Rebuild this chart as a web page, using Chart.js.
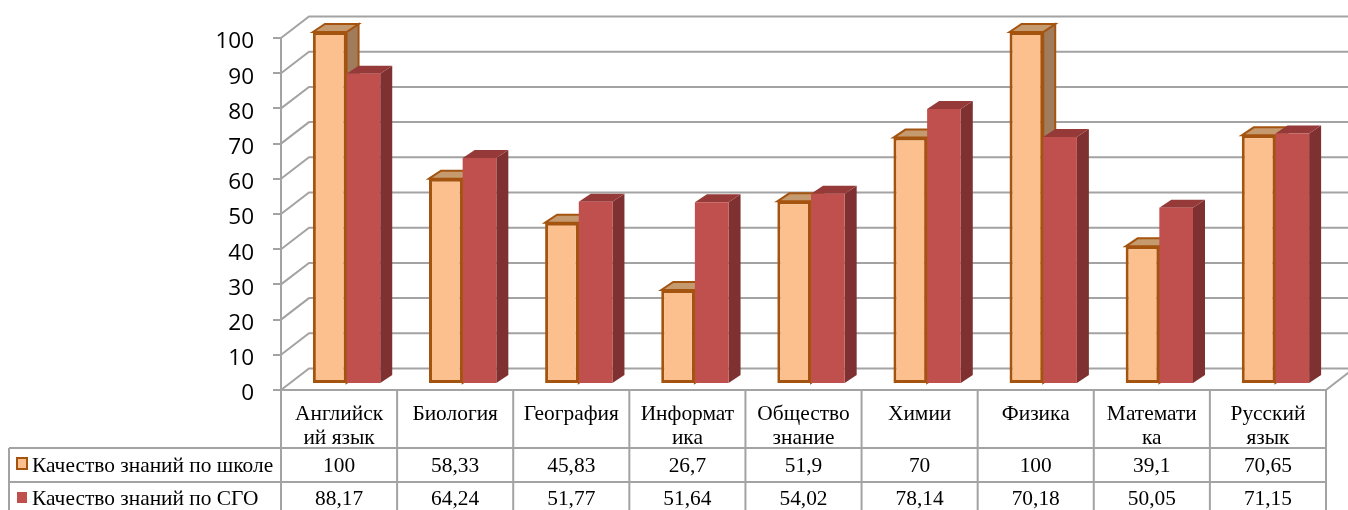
<!DOCTYPE html>
<html>
<head>
<meta charset="utf-8">
<style>
  body { margin: 0; background: #fff; }
  canvas { display: block; }
</style>
</head>
<body>
<canvas id="chart" width="1348" height="510"></canvas>
<script src="https://cdn.jsdelivr.net/npm/chart.js@4"></script>
<script>
// Data
const categories = [
  ['Английск', 'ий язык'], ['Биология'], ['География'], ['Информат', 'ика'],
  ['Общество', 'знание'], ['Химии'], ['Физика'], ['Математи', 'ка'], ['Русский', 'язык']
];
const schoolName = 'Качество знаний по школе';
const schoolValues = [100, 58.33, 45.83, 26.7, 51.9, 70, 100, 39.1, 70.65];
const districtName = 'Качество знаний по СГО';
const districtValues = [88.17, 64.24, 51.77, 51.64, 54.02, 78.14, 70.18, 50.05, 71.15];

const gray = '#a3a3a3';
const serif = 'Liberation Serif';
const wall = { dx: 28, dy: -21.5 };  // back wall offset from the front of the axes
const barShift = { dx: 7.5, dy: -6 };  // bars stand a bit inside the floor
const depth = { dx: 12, dy: -8 };    // depth of one bar
const faces = [
  { top: '#c49a6e', side: '#a07c5c', line: '#a5540f' },
  { top: '#953a38', side: '#7e3130', line: null }
];

// Walls and floor behind the bars
const wallsPlugin = {
  id: 'walls',
  beforeDatasetsDraw(chart) {
    const ctx = chart.ctx, y = chart.scales.y, area = chart.chartArea;
    ctx.save();
    ctx.strokeStyle = gray;
    ctx.lineWidth = 2;
    y.ticks.forEach(function (t) {
      const py = y.getPixelForValue(t.value);
      ctx.beginPath();
      ctx.moveTo(area.left, py);
      ctx.lineTo(area.left + wall.dx, py + wall.dy);
      ctx.lineTo(chart.width, py + wall.dy);
      ctx.stroke();
    });
    // right edge of the floor
    ctx.beginPath();
    ctx.moveTo(area.right, area.bottom);
    ctx.lineTo(area.right + wall.dx, area.bottom + wall.dy);
    ctx.stroke();
    ctx.restore();

    // sides and tops of the bars, the fronts come from Chart.js afterwards
    ctx.save();
    ctx.translate(barShift.dx, barShift.dy);
    chart.data.datasets.forEach(function (ds, i) {
      chart.getDatasetMeta(i).data.forEach(function (bar) {
        const l = bar.x - bar.width / 2, r = bar.x + bar.width / 2;
        ctx.lineWidth = 2;
        ctx.strokeStyle = faces[i].line || 'transparent';
        ctx.fillStyle = faces[i].side;
        ctx.beginPath();
        ctx.moveTo(r, bar.y);
        ctx.lineTo(r + depth.dx, bar.y + depth.dy);
        ctx.lineTo(r + depth.dx, bar.base + depth.dy);
        ctx.lineTo(r, bar.base);
        ctx.closePath();
        ctx.fill();
        if (faces[i].line) ctx.stroke();
        ctx.fillStyle = faces[i].top;
        ctx.beginPath();
        ctx.moveTo(l, bar.y);
        ctx.lineTo(l + depth.dx, bar.y + depth.dy);
        ctx.lineTo(r + depth.dx, bar.y + depth.dy);
        ctx.lineTo(r, bar.y);
        ctx.closePath();
        ctx.fill();
        if (faces[i].line) ctx.stroke();
      });
    });
  },
  afterDatasetsDraw(chart) {
    chart.ctx.restore();
  }
};

// Data table under the chart, with the legend keys in it
const tablePlugin = {
  id: 'dataTable',
  afterDraw(chart) {
    const ctx = chart.ctx, area = chart.chartArea, x = chart.scales.x;
    const tableLeft = 9, rowTops = [448, 482, 516];
    const cellWidth = (area.right - area.left) / categories.length;
    ctx.save();
    ctx.strokeStyle = gray;
    ctx.lineWidth = 2;
    ctx.beginPath();
    ctx.moveTo(area.left, area.bottom);
    ctx.lineTo(area.right, area.bottom);
    for (let i = 0; i <= categories.length; i++) {
      ctx.moveTo(area.left + i * cellWidth, area.bottom);
      ctx.lineTo(area.left + i * cellWidth, chart.height);
    }
    ctx.moveTo(tableLeft, rowTops[0]);
    ctx.lineTo(tableLeft, chart.height);
    rowTops.forEach(function (top) {
      ctx.moveTo(tableLeft, top);
      ctx.lineTo(area.right, top);
    });
    ctx.stroke();

    ctx.font = '21.4px "' + serif + '"';
    ctx.textBaseline = 'alphabetic';
    const rows = [
      { name: schoolName, values: schoolValues },
      { name: districtName, values: districtValues }
    ];
    rows.forEach(function (row, r) {
      const base = rowTops[r] + 24 - r;
      ctx.textAlign = 'left';
      ctx.fillStyle = '#000';
      ctx.fillText(row.name, 32, base);
      ctx.textAlign = 'center';
      row.values.forEach(function (v, i) {
        ctx.fillText(String(v).replace('.', ','), x.getPixelForValue(i), base);
      });
      // legend key
      const ds = chart.data.datasets[r];
      ctx.fillStyle = ds.backgroundColor;
      ctx.fillRect(17, rowTops[r] + 10, 10, 11);
      if (ds.borderWidth) {
        ctx.strokeStyle = ds.borderColor;
        ctx.strokeRect(17, rowTops[r] + 10, 10, 11);
      }
    });
    ctx.restore();
  }
};

new Chart(document.getElementById('chart'), {
  type: 'bar',
  data: {
    labels: categories,
    datasets: [
      {
        label: schoolName,
        data: schoolValues,
        backgroundColor: '#fcc08e',
        borderColor: '#a5540f',
        borderWidth: 3,
        borderSkipped: false,
        clip: false
      },
      {
        label: districtName,
        data: districtValues,
        backgroundColor: '#c0504d',
        borderWidth: 0,
        clip: false
      }
    ]
  },
  options: {
    responsive: false,
    animation: false,
    layout: { padding: { top: 38, right: 22, left: 0, bottom: 0 } },
    plugins: { legend: { display: false }, tooltip: { enabled: false } },
    datasets: { bar: { categoryPercentage: 0.58, barPercentage: 1 } },
    scales: {
      x: {
        afterFit(scale) { scale.height = 120; },
        grid: { display: false },
        border: { display: false },
        ticks: {
          autoSkip: false,
          maxRotation: 0,
          padding: 4,
          color: '#000',
          font: { family: serif, size: 21.4, lineHeight: 1.13 }
        }
      },
      y: {
        min: 0,
        max: 100,
        afterFit(scale) { scale.width = 281; },
        grid: { drawOnChartArea: false, color: gray, lineWidth: 2, tickLength: 8 },
        border: { color: gray, width: 2 },
        ticks: {
          stepSize: 10,
          padding: 19,
          color: '#000',
          // empty first line pushes the number a few pixels below the tick
          callback(value) { return ['', String(value)]; },
          font: { family: 'Open Sans', size: 22.5, lineHeight: '8px' }
        }
      }
    }
  },
  plugins: [wallsPlugin, tablePlugin]
});
</script>
</body>
</html>
